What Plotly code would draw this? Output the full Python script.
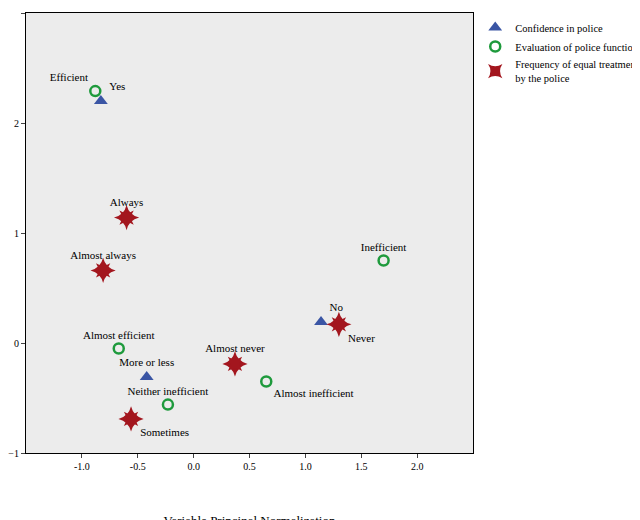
import plotly.graph_objects as go

conf_labels = ["Yes", "No", "More or less"]
conf_x = [-0.83, 1.14, -0.42]
conf_y = [2.20, 0.19, -0.31]
conf_pos = ["top right", "top right", "top center"]

eval_labels = ["Efficient", "Inefficient", "Almost efficient", "Neither inefficient", "Almost inefficient"]
eval_x = [-0.88, 1.70, -0.67, -0.23, 0.65]
eval_y = [2.29, 0.75, -0.05, -0.56, -0.35]
eval_pos = ["top left", "top center", "top center", "top center", "bottom right"]

freq_labels = ["Always", "Almost always", "Never", "Almost never", "Sometimes"]
freq_x = [-0.60, -0.81, 1.30, 0.37, -0.56]
freq_y = [1.14, 0.66, 0.17, -0.19, -0.69]
freq_pos = ["top center", "top center", "bottom right", "top center", "bottom right"]

font = dict(family="Liberation Serif", size=11, color="black")
fig = go.Figure()
fig.add_trace(go.Scatter(x=conf_x, y=conf_y, mode="markers+text", text=conf_labels,
    textposition=conf_pos, textfont=font, name="Confidence in police",
    marker=dict(symbol="triangle-up", size=12, color="#3a55a4")))
fig.add_trace(go.Scatter(x=eval_x, y=eval_y, mode="markers+text", text=eval_labels,
    textposition=eval_pos, textfont=font, name="Evaluation of police function",
    marker=dict(symbol="circle-open", size=10, color="#1e9a3c", line=dict(width=2.5))))
fig.add_trace(go.Scatter(x=freq_x, y=freq_y, mode="markers", showlegend=False,
    marker=dict(symbol="star-diamond", size=18, color="#a3161e")))
fig.add_trace(go.Scatter(x=freq_x, y=freq_y, mode="markers+text", text=freq_labels,
    textposition=freq_pos, textfont=font, name="Frequency of equal treatment<br>by the police",
    marker=dict(symbol="star-square", size=13, color="#a3161e")))

axis = dict(showgrid=False, zeroline=False, showline=True, linecolor="black", mirror=True,
            ticks="outside", ticklen=4, automargin=False,
            tickfont=dict(family="Liberation Serif", size=10, color="black"))
fig.update_layout(
    width=640, height=520, paper_bgcolor="white", plot_bgcolor="#ececec",
    margin=dict(l=18, r=175, t=5, b=75, autoexpand=False),
    xaxis=dict(axis, range=[-1.5, 2.5], tickvals=[-1, -0.5, 0, 0.5, 1, 1.5, 2],
               ticktext=["-1.0", "-0.5", "0.0", "0.5", "1.0", "1.5", "2.0"],
               title=dict(text="Variable Principal Normalization", standoff=50,
                          font=dict(family="Liberation Serif", size=13, color="black"))),
    yaxis=dict(axis, range=[-1, 3], tickvals=[-1, 0, 1, 2, 3]),
    legend=dict(x=1.005, y=1.0, xanchor="left", yanchor="top", tracegroupgap=0,
                font=dict(family="Liberation Serif", size=10.5, color="black"),
                bgcolor="rgba(0,0,0,0)", itemwidth=30),
    showlegend=True,
)
fig.write_html("out.html")
